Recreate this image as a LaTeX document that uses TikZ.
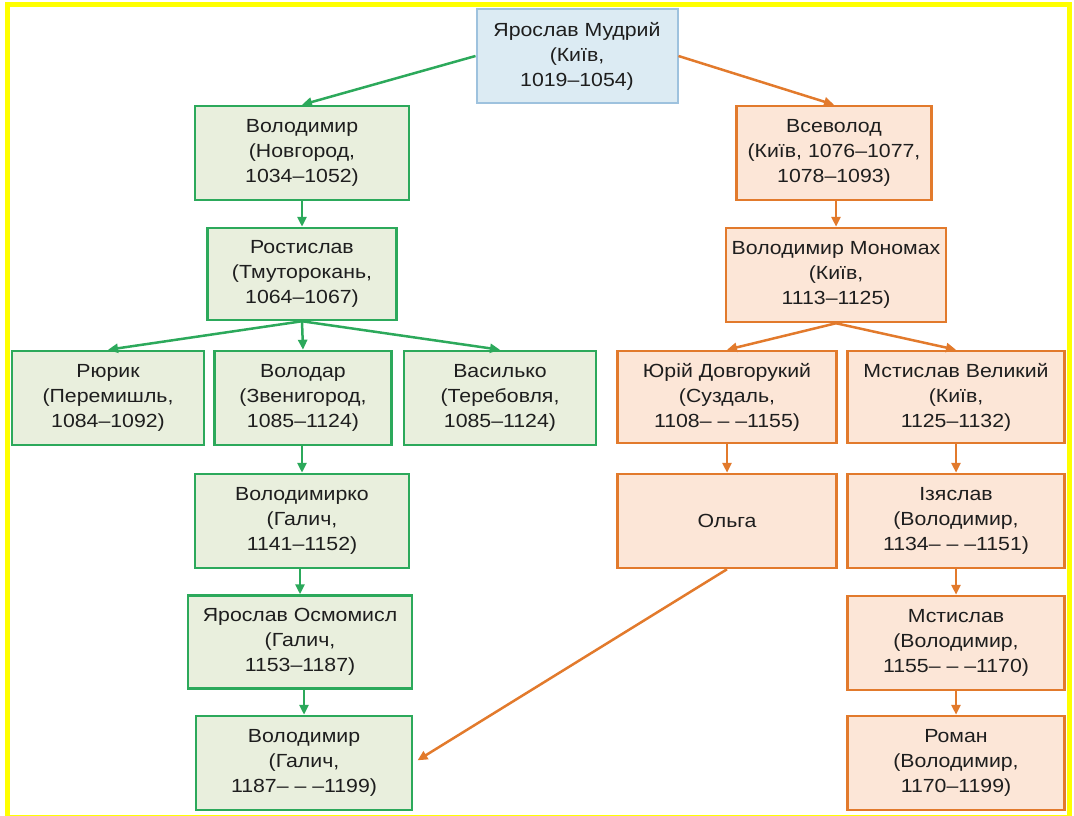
\documentclass[tikz,border=0pt]{standalone}
\usepackage{fontspec}
\setmainfont{Liberation Sans}[FakeStretch=1.12]
\usetikzlibrary{arrows.meta}

\definecolor{frameyellow}{HTML}{FFFF00}
\definecolor{grline}{HTML}{2CA95B}
\definecolor{grfill}{HTML}{E9EFDD}
\definecolor{orline}{HTML}{E27A2C}
\definecolor{orfill}{HTML}{FCE6D7}
\definecolor{blline}{HTML}{9EC2DE}
\definecolor{blfill}{HTML}{DCEBF3}
\definecolor{textgray}{HTML}{1E1E1E}

\begin{document}
\begin{tikzpicture}[x=1pt,y=-1pt,
    box/.style={draw,line width=2.5pt,align=center,inner sep=0pt,text=textgray,
        font=\fontsize{19}{25}\selectfont},
    grbox/.style={box,draw=grline,fill=grfill},
    orbox/.style={box,draw=orline,fill=orfill},
    grarr/.style={draw=grline,line width=2.5pt,-{Triangle[length=10pt,width=9pt]}},
    orarr/.style={draw=orline,line width=2.5pt,-{Triangle[length=10pt,width=9pt]}}]
    \useasboundingbox (0,0) rectangle (1074,816);
    \draw[frameyellow,line width=5pt] (7.5,4.5) rectangle (1069.5,817);
    % root
    \node[box,draw=blline,fill=blfill,line width=2pt,minimum width=201pt,minimum height=94pt]
        (yar) at (577,56) {Ярослав Мудрий\\(Київ,\\1019–1054)};
    % green branch
    \node[grbox,minimum width=214pt,minimum height=94pt] (vol1) at (302,153) {Володимир\\(Новгород,\\1034–1052)};
    \node[grbox,minimum width=189pt,minimum height=92pt] (ros) at (302,274) {Ростислав\\(Тмуторокань,\\1064–1067)};
    \node[grbox,minimum width=192pt,minimum height=94pt] (ryu) at (108,398) {Рюрик\\(Перемишль,\\1084–1092)};
    \node[grbox,minimum width=177pt,minimum height=94pt] (vdr) at (303,398) {Володар\\(Звенигород,\\1085–1124)};
    \node[grbox,minimum width=192pt,minimum height=94pt] (vas) at (500,398) {Василько\\(Теребовля,\\1085–1124)};
    \node[grbox,minimum width=214pt,minimum height=94pt] (vko) at (302,521) {Володимирко\\(Галич,\\1141–1152)};
    \node[grbox,minimum width=224pt,minimum height=93pt] (osm) at (300,642) {Ярослав Осмомисл\\(Галич,\\1153–1187)};
    \node[grbox,minimum width=216pt,minimum height=94pt] (vol2) at (304,763) {Володимир\\(Галич,\\1187– – –1199)};
    % orange branch
    \node[orbox,minimum width=195pt,minimum height=94pt] (vse) at (834,153) {Всеволод\\(Київ, 1076–1077,\\1078–1093)};
    \node[orbox,minimum width=220pt,minimum height=94pt] (mon) at (836,275) {Володимир Мономах\\(Київ,\\1113–1125)};
    \node[orbox,minimum width=219pt,minimum height=92pt] (yur) at (727,397) {Юрій Довгорукий\\(Суздаль,\\1108– – –1155)};
    \node[orbox,minimum width=217pt,minimum height=92pt] (mvel) at (956,397) {Мстислав Великий\\(Київ,\\1125–1132)};
    \node[orbox,minimum width=219pt,minimum height=94pt] (olg) at (727,521) {Ольга};
    \node[orbox,minimum width=217pt,minimum height=94pt] (izy) at (956,521) {Ізяслав\\(Володимир,\\1134– – –1151)};
    \node[orbox,minimum width=217pt,minimum height=94pt] (mst) at (956,643) {Мстислав\\(Володимир,\\1155– – –1170)};
    \node[orbox,minimum width=217pt,minimum height=94pt] (rom) at (956,763) {Роман\\(Володимир,\\1170–1199)};
    % connectors
    \draw[grarr] (yar.west) -- (vol1.north);
    \draw[orarr] (yar.east) -- (vse.north);
    \draw[grarr] (vol1.south -| ros.north) -- (ros.north);
    \draw[grarr] (ros.south) -- (ryu.north);
    \draw[grarr] (ros.south) -- (vdr.north);
    \draw[grarr] (ros.south) -- (vas.north);
    \draw[grarr] (vdr.south -| vko.north) -- (vko.north);
    \draw[grarr] (vko.south -| osm.north) -- (osm.north);
    \draw[grarr] (osm.south -| vol2.north) -- (vol2.north);
    \draw[orarr] (vse.south -| mon.north) -- (mon.north);
    \draw[orarr] (mon.south) -- (yur.north);
    \draw[orarr] (mon.south) -- (mvel.north);
    \draw[orarr] (yur) -- (olg);
    \draw[orarr] (mvel) -- (izy);
    \draw[orarr] (izy) -- (mst);
    \draw[orarr] (mst) -- (rom);
    \draw[orarr,shorten >=5pt] (olg.south) -- (vol2.east);
\end{tikzpicture}
\end{document}
